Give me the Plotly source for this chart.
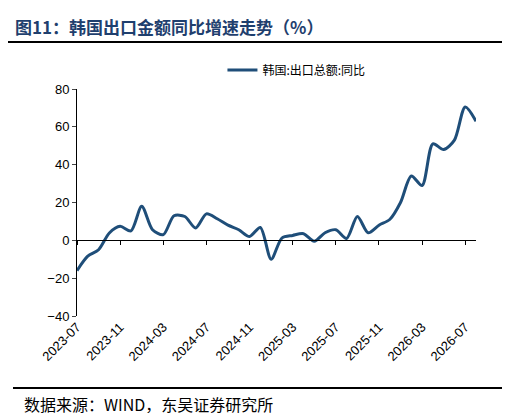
import plotly.graph_objects as go

months = [f"{y}-{m:02d}" for y, m in
          [(2023, m) for m in range(7, 13)] + [(2024, m) for m in range(1, 13)] +
          [(2025, m) for m in range(1, 13)] + [(2026, m) for m in range(1, 9)]]
values = [-16, -8.4, -5, 3.9, 7.4, 5, 18, 5.6, 3, 13, 12.6, 6.5, 14, 11.4, 8, 5.6, 2, 6.8,
          -10, 1.2, 2.6, 3.5, -0.5, 4, 5.6, 1, 12.6, 4, 8, 11, 20, 34, 29, 51, 48, 53, 70.5, 63]
tick_labels = ["2023-07", "2023-11", "2024-03", "2024-07", "2024-11",
               "2025-03", "2025-07", "2025-11", "2026-03", "2026-07"]
y_ticks = [-40, -20, 0, 20, 40, 60, 80]

font = "Liberation Sans, Arial, sans-serif"
fig = go.Figure()
fig.add_trace(go.Scatter(x=months, y=values, mode="lines", name="韩国:出口总额:同比",
                         line=dict(color="#1f4e79", width=3, shape="spline", smoothing=0.8)))
fig.add_trace(go.Scatter(x=months, y=values, xaxis="x2", mode="lines", showlegend=False,
                         hoverinfo="skip", line=dict(width=0)))

fig.update_layout(
    width=510, height=413, paper_bgcolor="white", plot_bgcolor="white",
    margin=dict(l=69, r=42, t=81, b=105, autoexpand=False),
    font=dict(family=font, size=13, color="black"),
    showlegend=True,
    legend=dict(orientation="h", x=0.55, xanchor="center", y=1.02, yanchor="bottom",
                font=dict(family="Noto Sans CJK SC", size=12)),
    xaxis=dict(type="category", range=[0, 37], tickmode="array", tickvals=tick_labels,
               ticktext=tick_labels, tickangle=-45, showline=False, ticks="",
               showgrid=False, zeroline=False, tickfont=dict(size=13), automargin=False),
    xaxis2=dict(type="category", overlaying="x", anchor="free", position=1/3,
                matches="x", range=[0, 37], tickmode="array", tickvals=tick_labels,
                showticklabels=False, ticks="outside", ticklen=4, tickcolor="black",
                showline=True, linecolor="black", linewidth=1, showgrid=False,
                automargin=False),
    yaxis=dict(range=[-40, 80], tickvals=y_ticks, showline=True, linecolor="black",
               ticks="outside", ticklen=4, showgrid=False, zeroline=False,
               tickfont=dict(size=13), automargin=False),
    shapes=[
        dict(type="line", xref="paper", yref="paper", x0=-69/399, x1=(510-69)/399,
             y0=1 + 47/227, y1=1 + 47/227, line=dict(color="black", width=2)),
        dict(type="line", xref="paper", yref="paper", x0=-64/399, x1=(505-69)/399,
             y0=-72/227, y1=-72/227, line=dict(color="black", width=2)),
    ],
    annotations=[
        dict(text="<b>图11：韩国出口金额同比增速走势（%）</b>", xref="paper", yref="paper",
             x=-64/399, y=1 + 63/227, xanchor="left", yanchor="middle", showarrow=False,
             font=dict(family="Noto Sans CJK SC", size=17, color="#1f3f6e")),
        dict(text="数据来源：WIND，东吴证券研究所", xref="paper", yref="paper",
             x=-55/399, y=-88/227, xanchor="left", yanchor="middle", showarrow=False,
             font=dict(family="Noto Sans CJK SC", size=16, color="black")),
    ],
)
fig.write_html("out.html")
